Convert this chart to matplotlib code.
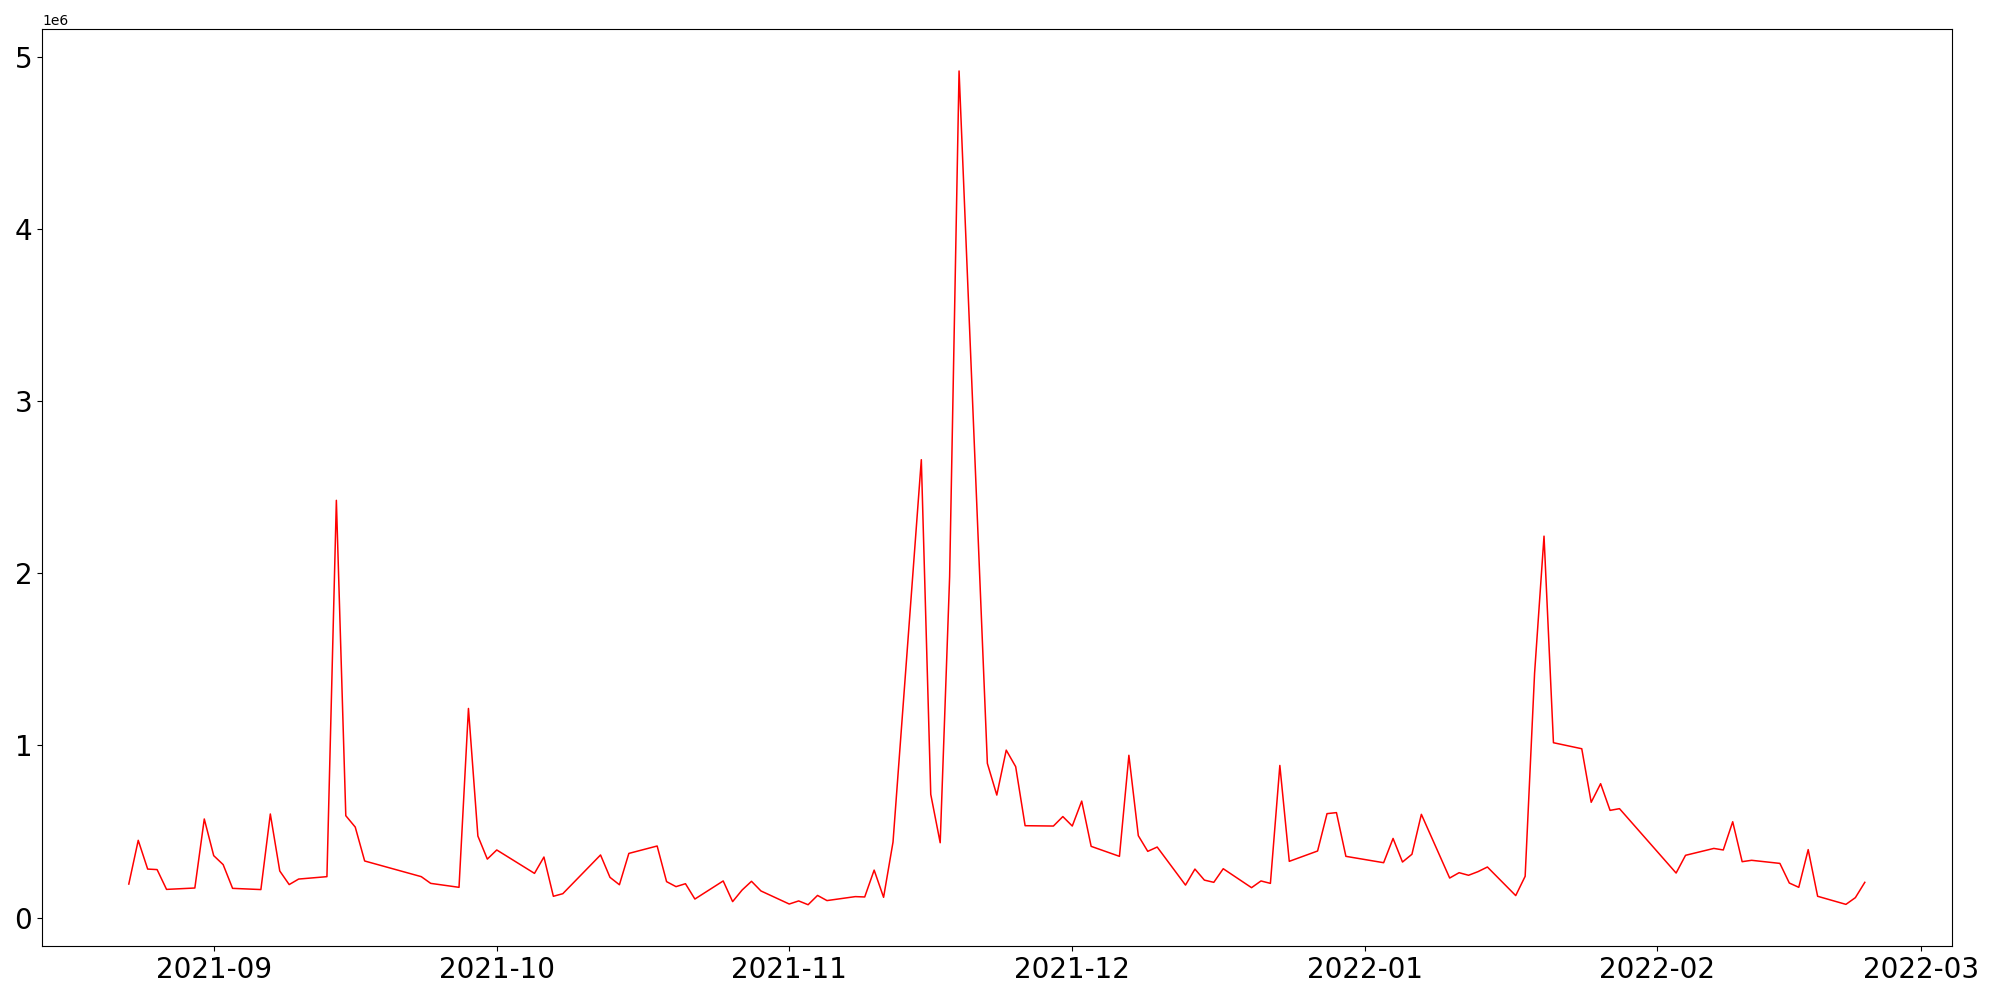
import matplotlib as mpl
mpl.use('Agg')
from matplotlib import pyplot as plt
import pandas as pd

# trading days
dates = ['2021-08-23', '2021-08-24', '2021-08-25', '2021-08-26', '2021-08-27',
         '2021-08-30', '2021-08-31', '2021-09-01', '2021-09-02', '2021-09-03',
         '2021-09-06', '2021-09-07', '2021-09-08', '2021-09-09', '2021-09-10',
         '2021-09-13', '2021-09-14', '2021-09-15', '2021-09-16', '2021-09-17',
         '2021-09-23', '2021-09-24',
         '2021-09-27', '2021-09-28', '2021-09-29', '2021-09-30', '2021-10-01',
         '2021-10-05', '2021-10-06', '2021-10-07', '2021-10-08',
         '2021-10-12', '2021-10-13', '2021-10-14', '2021-10-15',
         '2021-10-18', '2021-10-19', '2021-10-20', '2021-10-21', '2021-10-22',
         '2021-10-25', '2021-10-26', '2021-10-27', '2021-10-28', '2021-10-29',
         '2021-11-01', '2021-11-02', '2021-11-03', '2021-11-04', '2021-11-05',
         '2021-11-08', '2021-11-09', '2021-11-10', '2021-11-11', '2021-11-12',
         '2021-11-15', '2021-11-16', '2021-11-17', '2021-11-18', '2021-11-19',
         '2021-11-22', '2021-11-23', '2021-11-24', '2021-11-25', '2021-11-26',
         '2021-11-29', '2021-11-30', '2021-12-01', '2021-12-02', '2021-12-03',
         '2021-12-06', '2021-12-07', '2021-12-08', '2021-12-09', '2021-12-10',
         '2021-12-13', '2021-12-14', '2021-12-15', '2021-12-16', '2021-12-17',
         '2021-12-20', '2021-12-21', '2021-12-22', '2021-12-23', '2021-12-24',
         '2021-12-27', '2021-12-28', '2021-12-29', '2021-12-30',
         '2022-01-03', '2022-01-04', '2022-01-05', '2022-01-06', '2022-01-07',
         '2022-01-10', '2022-01-11', '2022-01-12', '2022-01-13', '2022-01-14',
         '2022-01-17', '2022-01-18', '2022-01-19', '2022-01-20', '2022-01-21',
         '2022-01-24', '2022-01-25', '2022-01-26', '2022-01-27', '2022-01-28',
         '2022-02-03', '2022-02-04',
         '2022-02-07', '2022-02-08', '2022-02-09', '2022-02-10', '2022-02-11',
         '2022-02-14', '2022-02-15', '2022-02-16', '2022-02-17', '2022-02-18',
         '2022-02-21', '2022-02-22', '2022-02-23']

# values in millions
values = [0.195, 0.449, 0.282, 0.279, 0.164,
          0.172, 0.573, 0.360, 0.308, 0.170,
          0.163, 0.602, 0.271, 0.192, 0.224,
          0.238, 2.424, 0.592, 0.526, 0.329,
          0.238, 0.199,
          0.176, 1.215, 0.474, 0.340, 0.393,
          0.257, 0.352, 0.124, 0.139,
          0.364, 0.234, 0.191, 0.373,
          0.416, 0.209, 0.180, 0.197, 0.108,
          0.213, 0.093, 0.160, 0.211, 0.155,
          0.079, 0.097, 0.075, 0.129, 0.099,
          0.122, 0.120, 0.276, 0.118, 0.439,
          2.660, 0.716, 0.435, 1.980, 4.918,
          0.896, 0.712, 0.973, 0.877, 0.534,
          0.532, 0.587, 0.532, 0.677, 0.414,
          0.356, 0.943, 0.476, 0.385, 0.410,
          0.189, 0.282, 0.218, 0.205, 0.284,
          0.174, 0.213, 0.199, 0.884, 0.327,
          0.387, 0.604, 0.610, 0.356,
          0.319, 0.460, 0.323, 0.368, 0.600,
          0.230, 0.261, 0.246, 0.267, 0.294,
          0.128, 0.240, 1.420, 2.216, 1.016,
          0.981, 0.670, 0.778, 0.623, 0.633,
          0.259, 0.362,
          0.402, 0.393, 0.557, 0.325, 0.333,
          0.315, 0.201, 0.176, 0.395, 0.124,
          0.077, 0.116, 0.205]


def plot(x, y, fileName='out.png'):
    fig = plt.figure(figsize=(20, 10), dpi=100)
    plt.plot(x, y, color='red', linewidth=1.1)
    plt.xticks(fontsize=20)
    plt.yticks(fontsize=20)
    plt.subplots_adjust(left=0.021, right=0.9758, top=0.9707, bottom=0.0536)
    plt.savefig(fileName)
    plt.clf()


if __name__ == "__main__":
    x = pd.to_datetime(dates)
    y = [v * 1e6 for v in values]
    plot(x, y)
